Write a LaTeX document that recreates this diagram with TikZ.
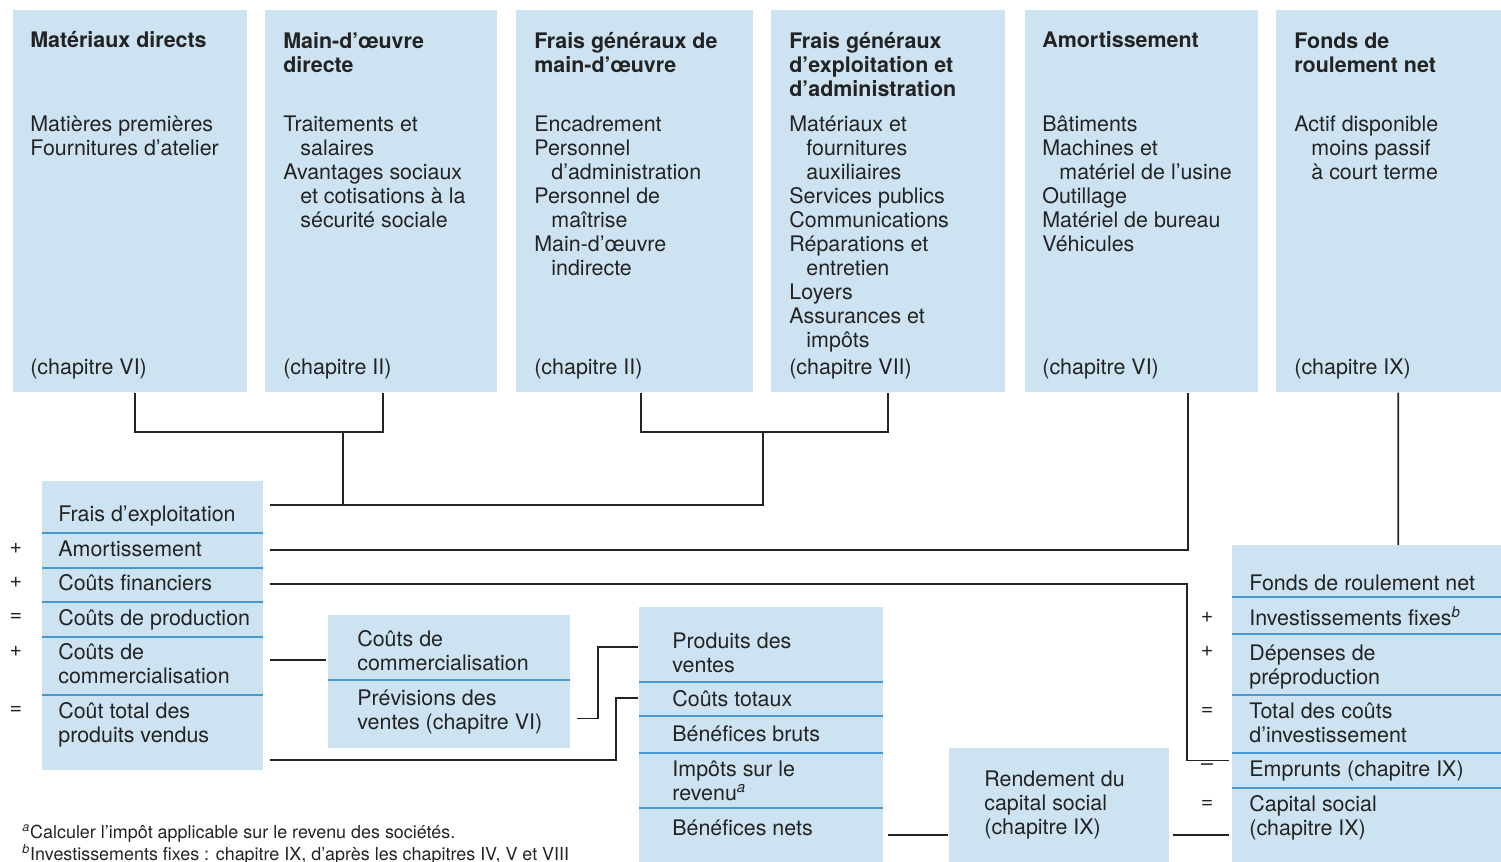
\documentclass[tikz,border=0pt]{standalone}
\usepackage{fontspec}
\setmainfont{TeX Gyre Heros}
\usetikzlibrary{calc}
\definecolor{paleBlue}{RGB}{205,227,242}
\definecolor{sepBlue}{RGB}{72,152,208}
\definecolor{inkGray}{RGB}{35,35,35}
\newcommand{\mainSize}{\fontsize{12.2}{13.66}\selectfont}
\newcommand{\noteSize}{\fontsize{10.2}{12}\selectfont}
\newcommand{\subInd}{\hspace*{9.7pt}}
\tikzstyle{topBox}=[shape = rectangle, fill = paleBlue, inner sep = 0pt, anchor = north west, minimum height = 7.64cm]
\tikzstyle{stackBox}=[shape = rectangle, fill = paleBlue, inner sep = 0pt, anchor = north west]
\tikzstyle{headText}=[anchor = base west, align = left, inner sep = 0pt, text = inkGray, font = \mainSize\bfseries]
\tikzstyle{itemText}=[anchor = base west, align = left, inner sep = 0pt, text = inkGray, font = \mainSize]
\tikzstyle{noteText}=[anchor = base west, inner sep = 0pt, text = inkGray, font = \noteSize]

\begin{document}
\begin{tikzpicture}[x = 0.02cm, y = -0.02cm]
\tikzstyle{linkStyle} = [draw = inkGray, line width = 1pt]
\tikzstyle{sepStyle} = [draw = sepBlue, line width = 0.8pt]
\tikzstyle{opStyle} = [inner sep = 0pt, text = inkGray, font = \mainSize]
\useasboundingbox (0,0) rectangle (1501,862);
\node[topBox, minimum width = 4.68cm] (matBox) at (13,10) {};
\node[topBox, minimum width = 4.64cm] (modBox) at (265,10) {};
\node[topBox, minimum width = 4.74cm] (fgmBox) at (516,10) {};
\node[topBox, minimum width = 4.68cm] (fgeBox) at (771,10) {};
\node[topBox, minimum width = 4.66cm] (amoBox) at (1025,10) {};
\node[topBox, minimum width = 4.50cm] (fdrBox) at (1276,10) {};
\node[stackBox, minimum width = 4.42cm, minimum height = 5.78cm] (lstack) at (42,481) {};
\node[stackBox, minimum width = 4.84cm, minimum height = 2.66cm] (commStack) at (328,615) {};
\node[stackBox, minimum width = 4.88cm, minimum height = 5.10cm] (prodStack) at (639,607) {};
\node[stackBox, minimum width = 4.40cm, minimum height = 2.28cm] (rendBox) at (949,748) {};
\node[stackBox, minimum width = 5.38cm, minimum height = 6.34cm] (rstack) at (1232,545) {};
\draw[sepStyle] (42,533) -- (263,533);
\draw[sepStyle] (42,568) -- (263,568);
\draw[sepStyle] (42,602) -- (263,602);
\draw[sepStyle] (42,637) -- (263,637);
\draw[sepStyle] (42,695) -- (263,695);
\draw[sepStyle] (328,680) -- (570,680);
\draw[sepStyle] (639,682) -- (883,682);
\draw[sepStyle] (639,716) -- (883,716);
\draw[sepStyle] (639,753) -- (883,753);
\draw[sepStyle] (639,808) -- (883,808);
\draw[sepStyle] (1232,597) -- (1501,597);
\draw[sepStyle] (1232,634) -- (1501,634);
\draw[sepStyle] (1232,695) -- (1501,695);
\draw[sepStyle] (1232,753) -- (1501,753);
\draw[sepStyle] (1232,788) -- (1501,788);

\node[headText] (matHead) at (30,48) {Matériaux directs};
\node[itemText] (matItems) at (30,155) {Matières premières\\Fournitures d’atelier};
\node[itemText] (matChap) at (30,374) {(chapitre VI)};
\node[headText] (modHead) at (283,72) {Main-d’œuvre\\directe};
\node[itemText] (modItems) at (283,227) {Traitements et\\\subInd salaires\\Avantages sociaux\\\subInd et cotisations à la\\\subInd sécurité sociale};
\node[itemText] (modChap) at (283,374) {(chapitre II)};
\node[headText] (fgmHead) at (534,72) {Frais généraux de\\main-d’œuvre};
\node[itemText] (fgmItems) at (534,275) {Encadrement\\Personnel\\\subInd d’administration\\Personnel de\\\subInd maîtrise\\Main-d’œuvre\\\subInd indirecte};
\node[itemText] (fgmChap) at (534,374) {(chapitre II)};
\node[headText] (fgeHead) at (789,96) {Frais généraux\\d’exploitation et\\d’administration};
\node[itemText] (fgeItems) at (789,347) {Matériaux et\\\subInd fournitures\\\subInd auxiliaires\\Services publics\\Communications\\Réparations et\\\subInd entretien\\Loyers\\Assurances et\\\subInd impôts};
\node[itemText] (fgeChap) at (789,374) {(chapitre VII)};
\node[headText] (amoHead) at (1042,48) {Amortissement};
\node[itemText] (amoItems) at (1042,251) {Bâtiments\\Machines et\\\subInd matériel de l’usine\\Outillage\\Matériel de bureau\\Véhicules};
\node[itemText] (amoChap) at (1042,374) {(chapitre VI)};
\node[headText] (fdrHead) at (1294,72) {Fonds de\\roulement net};
\node[itemText] (fdrItems) at (1294,179) {Actif disponible\\\subInd moins passif\\\subInd à court terme};
\node[itemText] (fdrChap) at (1294,374) {(chapitre IX)};

\node[itemText] (expl) at (58,521) {Frais d’exploitation};
\node[itemText] (amort) at (58,556) {Amortissement};
\node[itemText] (financ) at (58,590) {Coûts financiers};
\node[itemText] (prod) at (58,625) {Coûts de production};
\node[itemText] (commerc) at (58,683) {Coûts de\\commercialisation};
\node[itemText] (coutTotal) at (58,742) {Coût total des\\produits vendus};
\node[opStyle] (opL1) at (16,548) {+};
\node[opStyle] (opL2) at (16,582) {+};
\node[opStyle] (opL3) at (16,617) {=};
\node[opStyle] (opL4) at (16,651) {+};
\node[opStyle] (opL5) at (16,710) {=};
\node[itemText] (commCost) at (357,670) {Coûts de\\commercialisation};
\node[itemText] (prevVentes) at (357,729) {Prévisions des\\ventes (chapitre VI)};
\node[itemText] (prodVentes) at (672,672) {Produits des\\ventes};
\node[itemText] (coutsTot) at (672,706) {Coûts totaux};
\node[itemText] (benBruts) at (672,741) {Bénéfices bruts};
\node[itemText] (impots) at (672,800) {Impôts sur le\\revenu\textsuperscript{\itshape a}};
\node[itemText] (benNets) at (672,835) {Bénéfices nets};
\node[itemText] (rendText) at (984,834) {Rendement du\\capital social\\(chapitre IX)};
\node[itemText] (fondsNet) at (1249,590) {Fonds de roulement net};
\node[itemText] (investFixes) at (1249,625) {Investissements fixes\textsuperscript{\itshape b}};
\node[itemText] (depenses) at (1249,684) {Dépenses de\\préproduction};
\node[itemText] (totalInv) at (1249,742) {Total des coûts\\d’investissement};
\node[itemText] (emprunts) at (1249,776) {Emprunts (chapitre IX)};
\node[itemText] (capital) at (1249,835) {Capital social\\(chapitre IX)};
\node[opStyle] (opR1) at (1207,617) {+};
\node[opStyle] (opR2) at (1207,651) {+};
\node[opStyle] (opR3) at (1207,711) {=};
\node[opStyle] (opR4) at (1207,767) {–};
\node[opStyle] (opR5) at (1207,804) {=};
\node[noteText] (noteA) at (22,838) {\textsuperscript{\itshape a}Calculer l’impôt applicable sur le revenu des sociétés.};
\node[noteText] (noteB) at (22,860) {\textsuperscript{\itshape b}Investissements fixes : chapitre IX, d’après les chapitres IV, V et VIII};

\coordinate (labJoin) at (343,432);
\coordinate (genJoin) at (763,432);
\coordinate (explIn) at ($(lstack.north east)+(6,24)$);
\draw[linkStyle] ([xshift=0.1cm]matBox.south) |- (labJoin) -| ([xshift=0.04cm]modBox.south);
\draw[linkStyle] ([xshift=0.13cm]fgmBox.south) |- (genJoin) -| (fgeBox.south);
\draw[linkStyle] (labJoin) |- (explIn);
\draw[linkStyle] (genJoin) |- (explIn);
\draw[linkStyle] ([xshift=0.93cm]amoBox.south) |- ($(lstack.east |- amort)+(6,2)$);
\draw[linkStyle] ([xshift=0.19cm]fdrBox.south) -- ([xshift=0.63cm]rstack.north);
\draw[linkStyle] ($(lstack.east |- financ)+(6,2)$) -| ($(rstack.west |- emprunts)+(-45,-10)$) -- ($(rstack.west |- emprunts)+(-3,-10)$);
\draw[linkStyle] ($(lstack.east |- commerc)+(6,-3)$) -- ($(commStack.west |- commerc)+(-2,-3)$);
\draw[linkStyle] ($(lstack.south east)+(6,-11)$) -| ($(prodStack.west |- coutsTot)+(-23,0)$) -- ($(prodStack.west |- coutsTot)+(-1,0)$);
\draw[linkStyle] ($(commStack.east |- prevVentes)+(6,7)$) -| ($(prodStack.west |- prodVentes)+(-41,-5)$) -- ($(prodStack.west |- prodVentes)+(-1,-5)$);
\draw[linkStyle] ($(prodStack.east |- benNets)+(4,8)$) -- ($(rendBox.west |- benNets)+(-1,8)$);
\draw[linkStyle] ($(rendBox.east |- benNets)+(3,8)$) -- ($(rstack.west |- benNets)+(-3,8)$);
\end{tikzpicture}
\end{document}
